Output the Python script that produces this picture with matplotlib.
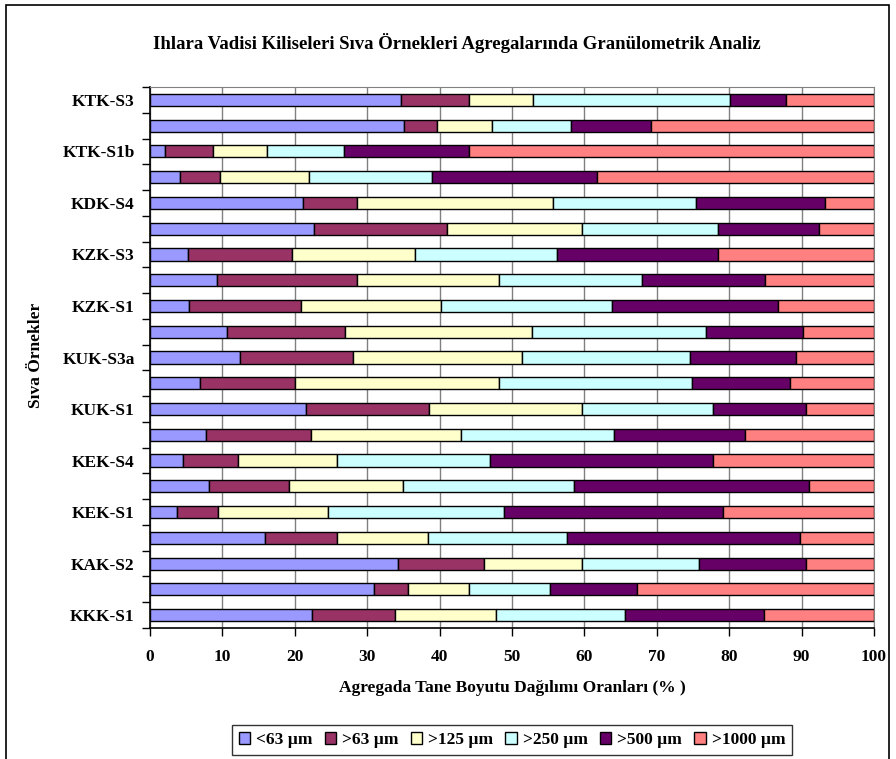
import numpy as np
from matplotlib import pyplot as plt
from matplotlib.patches import Rectangle

plt.rcParams['font.family'] = ['Liberation Serif', 'DejaVu Serif']
plt.rcParams['font.weight'] = 'bold'

# samples from bottom to top; every second label is left blank on the axis
samples = ["KKK-S1", "", "KAK-S2", "", "KEK-S1", "", "KEK-S4", "", "KUK-S1", "",
           "KUK-S3a", "", "KZK-S1", "", "KZK-S3", "", "KDK-S4", "", "KTK-S1b", "",
           "KTK-S3"]

classes = ["<63 µm", ">63 µm", ">125 µm", ">250 µm", ">500 µm", ">1000 µm"]

lt63 = [22.4, 31.0, 34.3, 15.9, 3.7, 8.1, 4.5, 7.7, 21.6, 6.9, 12.4, 10.7, 5.4,
        9.2, 5.2, 22.7, 21.2, 4.1, 2.1, 35.1, 34.7]
gt63 = [11.4, 4.7, 11.9, 9.9, 5.7, 11.1, 7.7, 14.5, 16.9, 13.1, 15.6, 16.3, 15.4,
        19.4, 14.4, 18.3, 7.4, 5.5, 6.6, 4.6, 9.3]
gt125 = [14.0, 8.3, 13.5, 12.6, 15.2, 15.7, 13.6, 20.8, 21.1, 28.2, 23.4, 25.8, 19.4,
         19.6, 17.0, 18.7, 27.0, 12.4, 7.5, 7.6, 8.9]
gt250 = [17.8, 11.3, 16.1, 19.2, 24.3, 23.7, 21.2, 21.1, 18.2, 26.6, 23.2, 24.0, 23.6,
         19.8, 19.6, 18.7, 19.8, 17.0, 10.6, 10.8, 27.2]
gt500 = [19.2, 11.9, 14.8, 32.2, 30.3, 32.4, 30.8, 18.1, 12.8, 13.6, 14.6, 13.4, 23.0,
         17.0, 22.2, 14.0, 17.8, 22.8, 17.2, 11.1, 7.7]
gt1000 = [15.2, 32.8, 9.4, 10.2, 20.8, 9.0, 22.2, 17.8, 9.4, 11.6, 10.8, 9.8, 13.2,
          15.0, 21.6, 7.6, 6.8, 38.2, 56.0, 30.8, 12.2]

colors = ["#9999FF", "#993366", "#FFFFCC", "#CCFFFF", "#660066", "#FF8080"]

fig = plt.figure(figsize=(8.96, 7.59), dpi=100)
ax = fig.add_axes([150 / 896, 1 - 628 / 759, 724 / 896, 541 / 759])

y = np.arange(len(samples))
left = np.zeros(len(samples))
for name, vals, col in zip(classes, [lt63, gt63, gt125, gt250, gt500, gt1000], colors):
    ax.barh(y, vals, left=left, height=0.47, color=col, edgecolor="black",
            linewidth=1.0, label=name, zorder=3)
    left += np.array(vals)

ax.set_xlim(0, 100)
ax.set_ylim(-0.5, len(samples) - 0.5)
ax.set_xticks(np.arange(0, 101, 10))
ax.xaxis.grid(True, color="#808080", linewidth=1.0, zorder=0)
ax.tick_params(axis="x", direction="out", length=6, width=1, labelsize=12.5, pad=9)

ax.set_yticks(y[::2])
ax.set_yticklabels(samples[::2])
ax.set_yticks(np.arange(-0.5, len(samples), 1), minor=True)
ax.tick_params(axis="y", which="major", length=0, labelsize=12.5, pad=11)
ax.tick_params(axis="y", which="minor", direction="out", length=6, width=1)

for side in ["top", "right"]:
    ax.spines[side].set_color("#808080")
for side in ["left", "bottom"]:
    ax.spines[side].set_color("black")
    ax.spines[side].set_linewidth(1.2)

ax.set_xlabel("Agregada Tane Boyutu Dağılımı Oranları (% )", fontsize=12.5,
              fontweight="bold", labelpad=11)
fig.text(36 / 896, 1 - 355 / 759, "Sıva Örnekler", rotation=90, fontsize=12.5,
         fontweight="bold", ha="center", va="center")
fig.text(457 / 896, 1 - 43 / 759,
         "Ihlara Vadisi Kiliseleri Sıva Örnekleri Agregalarında Granülometrik Analiz",
         fontsize=13.5, fontweight="bold", ha="center", va="center")

leg = fig.legend(loc="center", bbox_to_anchor=(512 / 896, 1 - 740 / 759), ncol=6,
                 frameon=True, fancybox=False, edgecolor="black", fontsize=12.5,
                 handlelength=0.65, handleheight=0.65, handletextpad=0.35,
                 columnspacing=0.7, borderpad=0.4, borderaxespad=0)
leg.get_frame().set_linewidth(1.0)

# outer chart border
fig.patches.append(Rectangle((6 / 896, -0.02), 883 / 896, 1 - 5 / 759 + 0.02,
                             transform=fig.transFigure, fill=False,
                             edgecolor="black", linewidth=1.2))

fig.savefig("out.png", dpi=100)
